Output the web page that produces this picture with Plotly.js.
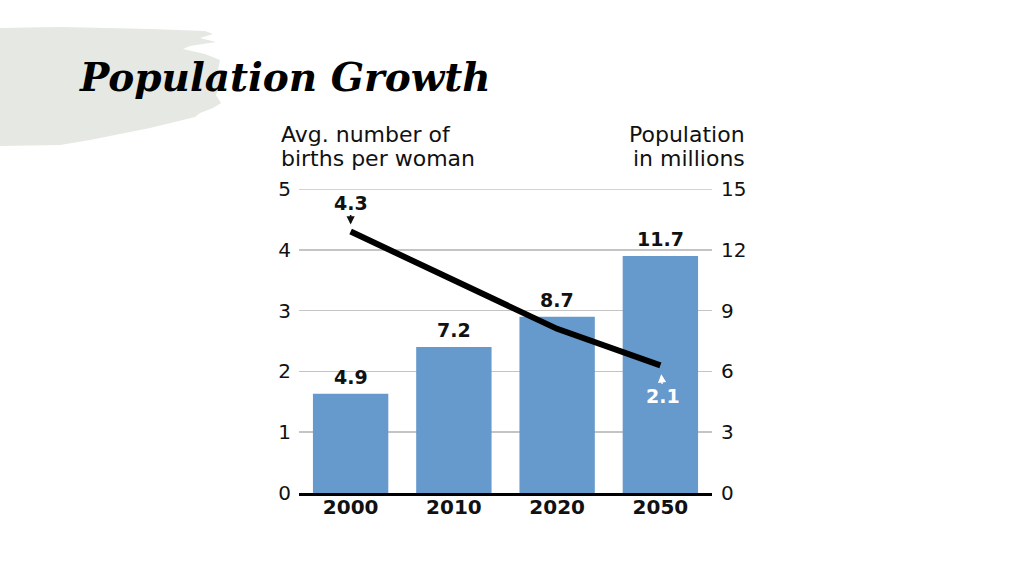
<!DOCTYPE html>
<html>
<head>
<meta charset="utf-8">
<script src="https://cdn.plot.ly/plotly-3.0.1.min.js"></script>
<style>
  html, body { margin: 0; padding: 0; background: #ffffff; }
  #chart { width: 1024px; height: 576px; }
</style>
</head>
<body>
<div id="chart"></div>
<script>
// ---- data ----
const years = ['2000', '2010', '2020', '2050'];
const population = [4.9, 7.2, 8.7, 11.7];       // millions (right axis)
const births = [4.3, 3.5, 2.7, 2.1];            // avg births per woman (left axis)
const leftTicks = [0, 1, 2, 3, 4, 5];
const rightTicks = [0, 3, 6, 9, 12, 15];
const chartTitle = 'Population Growth';
const leftTitleLines = ['Avg. number of', 'births per woman'];
const rightTitleLines = ['Population', 'in millions'];

// ---- layout geometry ----
const W = 1024, H = 576;
const M = { l: 299, r: 312, t: 189, b: 83 };
const PW = W - M.l - M.r, PH = H - M.t - M.b;
const px = x => (x - M.l) / PW;
const py = y => (H - M.b - y) / PH;

const brushPts = [
  [0, 28], [60, 27], [150, 29], [205, 31], [213, 34], [200, 38], [216, 42],
  [190, 46], [183, 49], [205, 54], [220, 60], [218, 70], [222, 82], [216, 95],
  [221, 103], [213, 108], [200, 113], [195, 117], [150, 128], [90, 140],
  [60, 145], [0, 146]
];
const brushPath = brushPts.map((p, i) => (i ? 'L' : 'M') + px(p[0]).toFixed(4) + ',' + py(p[1]).toFixed(4)).join(' ') + ' Z';

const FONT = 'DejaVu Sans';
const first = 0, last = years.length - 1;   // category indices for the line-end labels

const barTrace = {
  type: 'bar',
  x: years,
  y: population,
  yaxis: 'y',
  marker: { color: '#6699cc', line: { width: 0 } },
  hoverinfo: 'skip'
};

const lineTrace = {
  type: 'scatter',
  mode: 'lines',
  x: years,
  y: births,
  yaxis: 'y2',
  line: { color: '#000000', width: 6 },
  hoverinfo: 'skip'
};

const barLabels = population.map((v, i) => ({
  xref: 'x', yref: 'y', x: i, y: v,
  xanchor: 'center', yanchor: 'bottom', yshift: 4, showarrow: false,
  text: '<b>' + v.toFixed(1) + '</b>',
  font: { family: FONT, size: 19, color: '#111111' }
}));

const titleLineY = [134, 158];
const axisTitles = [];
leftTitleLines.forEach((t, i) => axisTitles.push({
  xref: 'paper', yref: 'paper', x: px(279), y: py(titleLineY[i]),
  xanchor: 'left', yanchor: 'middle', showarrow: false, text: t,
  font: { family: FONT, size: 22, color: '#111111' }
}));
rightTitleLines.forEach((t, i) => axisTitles.push({
  xref: 'paper', yref: 'paper', x: px(747), y: py(titleLineY[i]),
  xanchor: 'right', yanchor: 'middle', showarrow: false, text: t,
  font: { family: FONT, size: 22, color: '#111111' }
}));

const layout = {
  width: W, height: H,
  margin: Object.assign({}, M),
  paper_bgcolor: '#ffffff',
  plot_bgcolor: 'rgba(0,0,0,0)',
  showlegend: false,
  bargap: 0.27,
  xaxis: {
    type: 'category',
    range: [-0.5, years.length - 0.5],
    tickfont: { family: FONT, size: 20, color: '#111111', weight: 'bold' },
    ticklabelstandoff: -6,
    showline: true, linecolor: '#000000', linewidth: 2.5,
    ticks: '', showgrid: false, zeroline: false,
    fixedrange: true
  },
  yaxis: {
    side: 'right',
    range: [0, 15],
    tickvals: rightTicks,
    ticktext: rightTicks.map(String),
    tickfont: { family: FONT, size: 20, color: '#111111' },
    showgrid: false, zeroline: false, showline: false,
    ticks: 'outside', ticklen: 4, tickcolor: 'rgba(0,0,0,0)',
    fixedrange: true
  },
  yaxis2: {
    side: 'left',
    overlaying: 'y',
    range: [0, 5],
    tickvals: leftTicks,
    ticktext: leftTicks.map(String),
    tickfont: { family: FONT, size: 20, color: '#111111' },
    showgrid: true, gridcolor: '#c4c4c4', gridwidth: 1.5,
    zeroline: false, showline: false,
    ticks: 'outside', ticklen: 3, tickcolor: 'rgba(0,0,0,0)',
    fixedrange: true
  },
  shapes: [
    {
      type: 'path', xref: 'paper', yref: 'paper',
      path: brushPath,
      fillcolor: '#e5e8e3', line: { width: 0 }, layer: 'below'
    },
    {
      type: 'line', xref: 'paper', yref: 'y2',
      x0: 0, x1: 1, y0: leftTicks[leftTicks.length - 1], y1: leftTicks[leftTicks.length - 1],
      line: { color: '#c4c4c4', width: 1.5 }, layer: 'below'
    }
  ],
  annotations: [
    {
      xref: 'paper', yref: 'paper', x: px(77), y: py(77),
      xanchor: 'left', yanchor: 'middle', showarrow: false,
      text: '<b><i>' + chartTitle + '</i></b>',
      font: { family: 'DejaVu Serif', size: 39, color: '#000000' }
    },
    {
      xref: 'x', yref: 'y2', x: first, y: births[first],
      text: '<b>' + births[first].toFixed(1) + '</b>',
      showarrow: true, ax: 0, ay: -29,
      arrowhead: 2, arrowsize: 1.1, arrowwidth: 1.5, arrowcolor: '#111111', standoff: 7,
      font: { family: FONT, size: 19, color: '#111111' }
    },
    {
      xref: 'x', yref: 'y2', x: last, y: births[last],
      text: '<b>' + births[last].toFixed(1) + '</b>',
      showarrow: true, ax: 3, ay: 31,
      arrowhead: 2, arrowsize: 1.1, arrowwidth: 1.5, arrowcolor: '#ffffff', standoff: 9,
      font: { family: FONT, size: 19, color: '#ffffff' }
    }
  ].concat(axisTitles, barLabels)
};

Plotly.newPlot('chart', [barTrace, lineTrace], layout, { staticPlot: true, displayModeBar: false });
</script>
</body>
</html>
